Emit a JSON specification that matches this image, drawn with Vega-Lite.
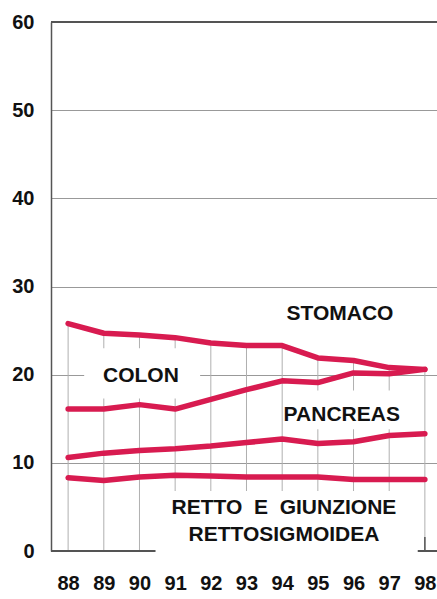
{
  "$schema": "https://vega.github.io/schema/vega-lite/v6.json",
  "width": 386,
  "height": 529,
  "autosize": "none",
  "padding": {"left": 51, "top": 22, "right": 0, "bottom": 48},
  "background": "white",
  "config": {
    "view": {"stroke": null},
    "font": "Liberation Sans",
    "axisX": {"labelOverlap": false, "labelFlush": false, "labelBound": false, "tickCount": 11},
    "axisY": {"labelOverlap": false}
  },
  "data": {"name": "rates"},
  "datasets": {
    "rates": [
      {"year": 88, "STOMACO": 25.8, "COLON": 16.1, "PANCREAS": 10.6, "RETTO": 8.3},
      {"year": 89, "STOMACO": 24.7, "COLON": 16.1, "PANCREAS": 11.1, "RETTO": 8.0},
      {"year": 90, "STOMACO": 24.5, "COLON": 16.6, "PANCREAS": 11.4, "RETTO": 8.4},
      {"year": 91, "STOMACO": 24.2, "COLON": 16.1, "PANCREAS": 11.6, "RETTO": 8.6},
      {"year": 92, "STOMACO": 23.6, "COLON": 17.2, "PANCREAS": 11.9, "RETTO": 8.5},
      {"year": 93, "STOMACO": 23.3, "COLON": 18.3, "PANCREAS": 12.3, "RETTO": 8.4},
      {"year": 94, "STOMACO": 23.3, "COLON": 19.3, "PANCREAS": 12.7, "RETTO": 8.4},
      {"year": 95, "STOMACO": 21.9, "COLON": 19.1, "PANCREAS": 12.2, "RETTO": 8.4},
      {"year": 96, "STOMACO": 21.6, "COLON": 20.2, "PANCREAS": 12.4, "RETTO": 8.1},
      {"year": 97, "STOMACO": 20.8, "COLON": 20.1, "PANCREAS": 13.1, "RETTO": 8.1},
      {"year": 98, "STOMACO": 20.6, "COLON": 20.6, "PANCREAS": 13.3, "RETTO": 8.1}
    ],
    "boxes": [
      {"x1": 88.45, "x2": 91.7, "y1": 17.3, "y2": 23.0},
      {"x1": 94.2, "x2": 97.5, "y1": 13.8, "y2": 18.2},
      {"x1": 90.45, "x2": 97.8, "y1": -0.6, "y2": 6.8}
    ],
    "labels": [
      {"x": 95.62, "y": 26.9, "text": "STOMACO"},
      {"x": 90.04, "y": 19.8, "text": "COLON"},
      {"x": 95.67, "y": 15.45, "text": "PANCREAS"},
      {"x": 94.05, "y": 4.9, "text": "RETTO\u00a0 E\u00a0 GIUNZIONE"},
      {"x": 94.05, "y": 1.8, "text": "RETTOSIGMOIDEA"}
    ]
  },
  "layer": [
    {
      "mark": {"type": "rule", "color": "#b0b0b0", "strokeWidth": 1},
      "encoding": {
        "x": {
          "field": "year", "type": "quantitative",
          "scale": {"domain": [87.52, 98.34], "nice": false, "zero": false},
          "axis": {
            "values": [88, 89, 90, 91, 92, 93, 94, 95, 96, 97, 98],
            "tickCount": 11,
            "format": "d", "title": null, "domain": false, "ticks": false, "grid": false,
            "labelOverlap": false, "labelSeparation": 0,
            "labelFontSize": 20, "labelFontWeight": "bold", "labelColor": "#111",
            "labelPadding": 22, "labelFont": "Liberation Sans"
          }
        },
        "y": {
          "field": "STOMACO", "type": "quantitative",
          "scale": {"domain": [0, 60], "nice": false},
          "axis": {
            "values": [0, 10, 20, 30, 40, 50, 60], "title": null,
            "domain": true, "domainColor": "#555", "domainWidth": 1.5,
            "ticks": false, "grid": true, "gridColor": "#999", "gridWidth": 1,
            "labelFontSize": 20, "labelFontWeight": "bold", "labelColor": "#111",
            "labelPadding": 17, "labelFont": "Liberation Sans"
          }
        },
        "y2": {"datum": 0}
      }
    },
    {
      "mark": {"type": "rule", "color": "#555", "strokeWidth": 1.5},
      "encoding": {"y": {"datum": 0, "type": "quantitative"}}
    },
    {
      "mark": {"type": "rule", "color": "#555", "strokeWidth": 1.5},
      "encoding": {"y": {"datum": 60, "type": "quantitative"}}
    },
    {
      "data": {"name": "boxes"},
      "mark": {"type": "rect", "color": "white"},
      "encoding": {
        "x": {"field": "x1", "type": "quantitative"},
        "x2": {"field": "x2"},
        "y": {"field": "y1", "type": "quantitative"},
        "y2": {"field": "y2"}
      }
    },
    {
      "transform": [{"filter": "datum.year == 98"}],
      "mark": {"type": "rule", "color": "#555", "strokeWidth": 1.5},
      "encoding": {
        "x": {"field": "year", "type": "quantitative"},
        "y": {"datum": 1.6, "type": "quantitative"},
        "y2": {"datum": 0}
      }
    },
    {
      "transform": [{"fold": ["STOMACO", "COLON", "PANCREAS", "RETTO"], "as": ["site", "rate"]}],
      "mark": {"type": "line", "color": "#d81b50", "strokeWidth": 5.5, "strokeJoin": "round", "strokeCap": "round"},
      "encoding": {
        "x": {"field": "year", "type": "quantitative"},
        "y": {"field": "rate", "type": "quantitative"},
        "detail": {"field": "site"}
      }
    },
    {
      "data": {"name": "labels"},
      "mark": {"type": "text", "font": "Liberation Sans", "fontWeight": "bold", "fontSize": 21, "color": "#111", "align": "center", "baseline": "middle"},
      "encoding": {
        "x": {"field": "x", "type": "quantitative"},
        "y": {"field": "y", "type": "quantitative"},
        "text": {"field": "text"}
      }
    }
  ]
}
